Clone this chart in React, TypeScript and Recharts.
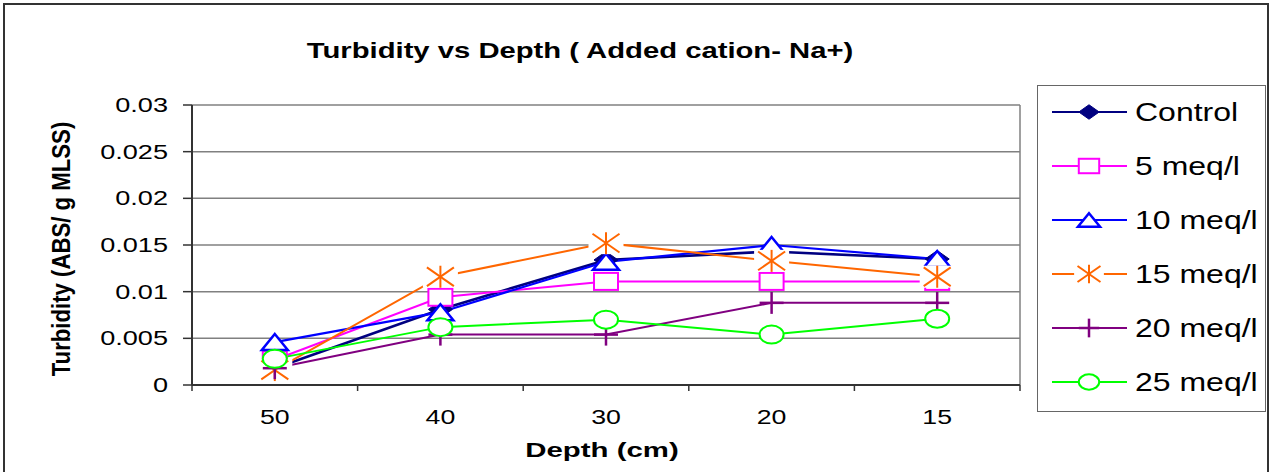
import React from 'react';
import { LineChart, Line, XAxis, YAxis, CartesianGrid, Legend } from 'recharts';

// ---- data ----
const categories = ['50', '40', '30', '20', '15'];
const control = [0.0018, 0.0081, 0.0134, 0.0143, 0.0135];
const meq5 = [0.0027, 0.0094, 0.0111, 0.0111, 0.0111];
const meq10 = [0.0046, 0.0078, 0.0132, 0.015, 0.0135];
const meq15 = [0.0016, 0.0116, 0.0152, 0.0133, 0.0116];
const meq20 = [0.0018, 0.0054, 0.0054, 0.0088, 0.0088];
const meq25 = [0.0028, 0.0062, 0.007, 0.0054, 0.0071];
const yTicks = [0, 0.005, 0.01, 0.015, 0.02, 0.025, 0.03];
const seriesNames = ['Control', '5 meq/l', '10 meq/l', '15 meq/l', '20 meq/l', '25 meq/l'];
const titleText = 'Turbidity vs Depth ( Added cation- Na+)';
const xLabelText = 'Depth (cm)';
const yLabelText = 'Turbidity (ABS/ g MLSS)';

// ---- layout ----
const W = 1274;
const H = 472;
const X_AXIS_H = 87;
const MARGIN = { top: 105, right: 254, bottom: 0, left: 0 };
const Y_AXIS_W = 192;
const FONT = '"Liberation Sans", Arial, Helvetica, sans-serif';
const AXIS_COLOR = '#333333';
const GRID_COLOR = '#808080';

const data = categories.map((c, i) => ({
  depth: c,
  control: control[i],
  meq5: meq5[i],
  meq10: meq10[i],
  meq15: meq15[i],
  meq20: meq20[i],
  meq25: meq25[i],
}));

type Kind = 'diamond' | 'square' | 'triangle' | 'asterisk' | 'plus' | 'circle';

const SERIES: { key: string; name: string; color: string; kind: Kind; width: number }[] = [
  { key: 'control', name: seriesNames[0], color: '#000080', kind: 'diamond', width: 2.6 },
  { key: 'meq5', name: seriesNames[1], color: '#FF00FF', kind: 'square', width: 2 },
  { key: 'meq10', name: seriesNames[2], color: '#0000FF', kind: 'triangle', width: 2.2 },
  { key: 'meq15', name: seriesNames[3], color: '#FF6600', kind: 'asterisk', width: 2 },
  { key: 'meq20', name: seriesNames[4], color: '#800080', kind: 'plus', width: 2 },
  { key: 'meq25', name: seriesNames[5], color: '#00FF00', kind: 'circle', width: 2 },
];

function Marker({ kind, cx, cy, color, s = 1 }: { kind: Kind; cx: number; cy: number; color: string; s?: number }) {
  if (cx == null || cy == null) return null;
  switch (kind) {
    case 'diamond': {
      const w = 12 * s, h = 8.5 * s;
      return (
        <polygon
          points={`${cx - w},${cy} ${cx},${cy - h} ${cx + w},${cy} ${cx},${cy + h}`}
          fill={color}
          stroke={color}
          strokeWidth={1}
        />
      );
    }
    case 'square': {
      const w = 12 * s, h = 8.5 * s;
      return <rect x={cx - w} y={cy - h} width={2 * w} height={2 * h} fill="#fff" stroke={color} strokeWidth={2} />;
    }
    case 'triangle': {
      const w = 13 * s, h = 8 * s;
      return (
        <polygon
          points={`${cx},${cy - h} ${cx + w},${cy + h} ${cx - w},${cy + h}`}
          fill="#fff"
          stroke={color}
          strokeWidth={2.5}
        />
      );
    }
    case 'asterisk': {
      const w = 13.5 * s, h = 11 * s;
      return (
        <g>
          <rect x={cx - w - 4 * s} y={cy - h} width={2 * w + 8 * s} height={2 * h} fill="#fff" />
          <line x1={cx} y1={cy - h} x2={cx} y2={cy + h} stroke={color} strokeWidth={2} />
          <line x1={cx - w} y1={cy - h * 0.85} x2={cx + w} y2={cy + h * 0.85} stroke={color} strokeWidth={2} />
          <line x1={cx - w} y1={cy + h * 0.85} x2={cx + w} y2={cy - h * 0.85} stroke={color} strokeWidth={2} />
        </g>
      );
    }
    case 'plus': {
      const w = 12 * s, h = 11 * s;
      return (
        <g>
          <line x1={cx} y1={cy - h} x2={cx} y2={cy + h} stroke={color} strokeWidth={2.5} />
          <line x1={cx - w} y1={cy} x2={cx + w} y2={cy} stroke={color} strokeWidth={2.5} />
        </g>
      );
    }
    case 'circle':
    default: {
      return <ellipse cx={cx} cy={cy} rx={12 * s} ry={9 * s} fill="#fff" stroke={color} strokeWidth={2} />;
    }
  }
}

const makeDot = (kind: Kind, color: string, key: string) => (p: any) => (
  <Marker key={`${key}-${p.index}`} kind={kind} cx={p.cx} cy={p.cy} color={color} />
);

const plotWidth = W - MARGIN.left - Y_AXIS_W - MARGIN.right;
const halfBand = plotWidth / categories.length / 2;

const XTick = (props: any) => {
  const { x, y, payload, index } = props;
  const isLast = index === categories.length - 1;
  return (
    <g>
      <line x1={x - halfBand} y1={y} x2={x - halfBand} y2={y + 6} stroke={AXIS_COLOR} strokeWidth={1.5} />
      {isLast && <line x1={x + halfBand} y1={y} x2={x + halfBand} y2={y + 6} stroke={AXIS_COLOR} strokeWidth={1.5} />}
      <text
        transform={`translate(${x},${y + 39}) scale(1.37,1)`}
        textAnchor="middle"
        fontFamily={FONT}
        fontSize={19.5}
        fill="#000"
      >
        {payload.value}
      </text>
    </g>
  );
};

const YTick = (props: any) => {
  const { x, y, payload } = props;
  return (
    <text
      transform={`translate(${x},${y + 7}) scale(1.39,1)`}
      textAnchor="end"
      fontFamily={FONT}
      fontSize={19.5}
      fill="#000"
    >
      {String(payload.value)}
    </text>
  );
};

const YLabel = (props: any) => {
  const vb = props.viewBox || { x: 0, y: MARGIN.top, width: Y_AXIS_W, height: 280 };
  const cx = vb.x + 62;
  const cy = vb.y + vb.height / 2 + 4;
  return (
    <text
      transform={`translate(${cx},${cy}) rotate(-90) scale(1,1.12)`}
      textAnchor="middle"
      dominantBaseline="central"
      fontFamily={FONT}
      fontWeight="bold"
      fontSize={22.2}
      fill="#000"
    >
      {yLabelText}
    </text>
  );
};

const XLabel = (props: any) => {
  const vb = props.viewBox || { x: Y_AXIS_W, y: H - X_AXIS_H, width: plotWidth, height: X_AXIS_H };
  const cx = vb.x + vb.width / 2 - 4;
  const cy = vb.y + 72;
  return (
    <text
      transform={`translate(${cx},${cy}) scale(1.5,1)`}
      textAnchor="middle"
      fontFamily={FONT}
      fontWeight="bold"
      fontSize={19.6}
      fill="#000"
    >
      {xLabelText}
    </text>
  );
};

const LegendBox = () => (
  <div
    style={{
      width: 229,
      height: 327,
      boxSizing: 'border-box',
      border: '1.5px solid #666',
      background: '#fff',
    }}
  >
    <svg width={226} height={324} style={{ display: 'block' }}>
      {SERIES.map((s, i) => {
        const y = 26 + i * 54;
        return (
          <g key={s.key}>
            <line x1={14} y1={y} x2={89} y2={y} stroke={s.color} strokeWidth={2} />
            <Marker kind={s.kind} cx={51} cy={y} color={s.color} s={0.85} />
            <text
              transform={`translate(97,${y + 9}) scale(1.28,1)`}
              fontFamily={FONT}
              fontSize={25}
              fill="#000"
            >
              {s.name}
            </text>
          </g>
        );
      })}
    </svg>
  </div>
);

export default function App() {
  return (
    <div style={{ position: 'absolute', left: 0, top: 0, width: W, height: H, overflow: 'hidden', background: '#fff' }}>
      <LineChart width={W} height={H} data={data} margin={MARGIN}>
        <CartesianGrid
          stroke={GRID_COLOR}
          strokeWidth={1.5}
          horizontal={true}
          vertical={true}
          verticalCoordinatesGenerator={(args: any) => [args.offset.left + args.offset.width]}
        />
        <XAxis
          dataKey="depth"
          type="category"
          scale="band"
          axisLine={{ stroke: AXIS_COLOR, strokeWidth: 2 }}
          tickLine={false}
          tickSize={0}
          tickMargin={0}
          tick={<XTick />}
          interval={0}
          height={X_AXIS_H}
          label={{ content: <XLabel /> } as any}
        />
        <YAxis
          type="number"
          domain={[0, 0.03]}
          ticks={yTicks}
          width={Y_AXIS_W}
          axisLine={{ stroke: AXIS_COLOR, strokeWidth: 2 }}
          tickLine={{ stroke: AXIS_COLOR, strokeWidth: 1.5 }}
          tickSize={9}
          tickMargin={15}
          tick={<YTick />}
          interval={0}
          allowDataOverflow={true}
          label={{ content: <YLabel /> } as any}
        />
        <Legend
          layout="horizontal"
          verticalAlign="middle"
          align="center"
          content={() => <LegendBox />}
          wrapperStyle={{ position: 'absolute', left: 1037, top: 85, width: 229, height: 327 }}
        />
        {SERIES.map((s) => (
          <Line
            key={s.key}
            dataKey={s.key}
            name={s.name}
            type="linear"
            stroke={s.color}
            strokeWidth={s.width}
            dot={makeDot(s.kind, s.color, s.key)}
            activeDot={false}
            isAnimationActive={false}
          />
        ))}
      </LineChart>
      <svg
        width={W}
        height={H}
        style={{ position: 'absolute', left: 0, top: 0, pointerEvents: 'none' }}
      >
        <rect x={4} y={4} width={1264} height={H + 20} fill="none" stroke="#333" strokeWidth={2} />
        <text
          transform={`translate(580,58) scale(1.3,1)`}
          textAnchor="middle"
          fontFamily={FONT}
          fontWeight="bold"
          fontSize={22.5}
          fill="#000"
        >
          {titleText}
        </text>
      </svg>
    </div>
  );
}
